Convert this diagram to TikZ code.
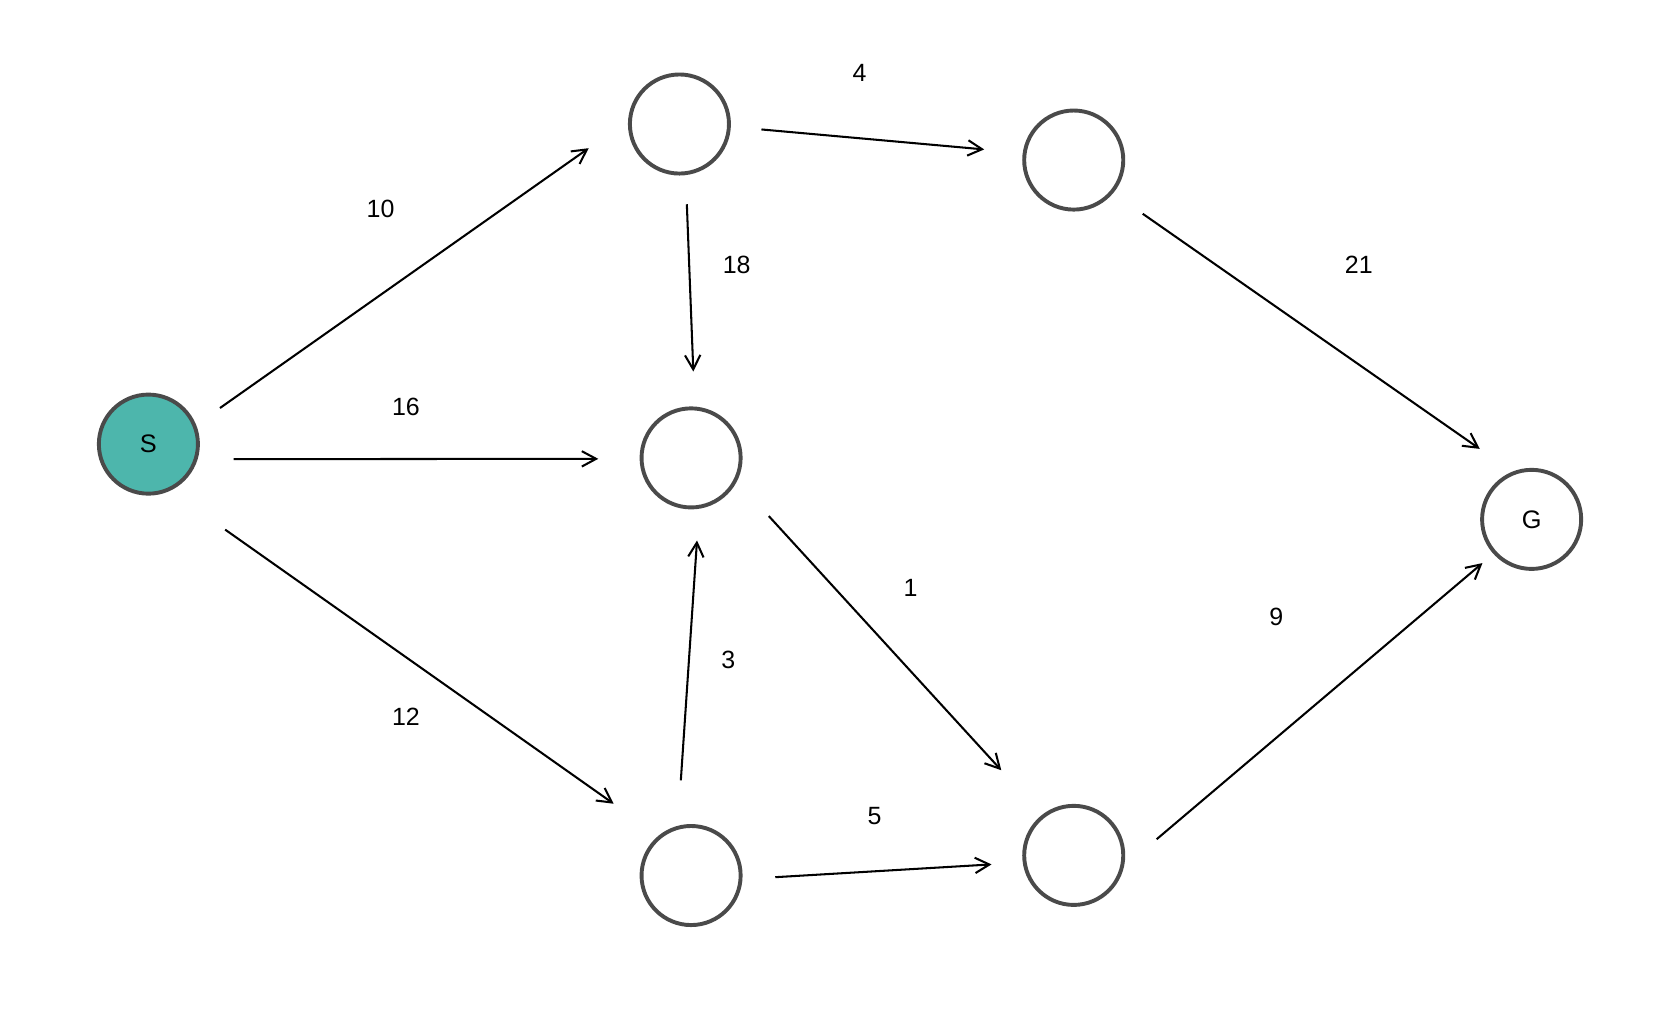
\documentclass[tikz,border=0pt]{standalone}
\usepackage{fontspec}
\setmainfont{Liberation Sans}
\usepackage{xcolor}
\usepackage{tikz}
\usetikzlibrary{
  arrows.meta,
  positioning,
  calc
}
\definecolor{ringgray}{HTML}{4A4A4A}
\definecolor{startteal}{HTML}{4DB6AC}

\begin{document}
\begin{tikzpicture}[x=0.02cm,y=-0.02cm,
  vertex/.style={circle,draw=ringgray,line width=2.1pt,minimum size=1.87cm,
    inner sep=0pt,font=\fontsize{13.6}{16}\selectfont},
  cost/.style={font=\fontsize{13.4}{16}\selectfont},
  edge/.style={line width=1.1pt,-{Straight Barb[length=2.7mm,width=2.9mm]}}]
  \useasboundingbox (0,0) rectangle (1568,960);
  % vertices
  \node[vertex,fill=startteal] (S) at (140,419) {S};
  \node[vertex] (up)   at (641,117) {};
  \node[vertex] (upr)  at (1013,151) {};
  \node[vertex] (mid)  at (652,432) {};
  \node[vertex] (low)  at (652,826) {};
  \node[vertex] (lowr) at (1013,807) {};
  \node[vertex] (G)    at (1445,490) {G};
  % edges from the start
  \draw[edge,shorten <=0.55cm,shorten >=0.91cm] (S.22.2) -- (up.176.4);
  \draw[edge,shorten <=0.68cm,shorten >=0.78cm] (S.343) -- (mid.181.2);
  \draw[edge,shorten <=1.27cm,shorten >=1.04cm] (S.295.1) -- (low.129.6);
  % middle edges
  \draw[edge,shorten <=0.58cm,shorten >=0.73cm] (up.357.2) -- (upr.172);
  \draw[edge,shorten <=0.55cm,shorten >=0.66cm] (up.277.1) -- (mid.86.1);
  \draw[edge,shorten <=0.89cm,shorten >=1.14cm] (mid.333.8) -- (lowr.128);
  \draw[edge,shorten <=0.86cm,shorten >=0.60cm] (low.105.7) -- (mid.279.7);
  \draw[edge,shorten <=0.62cm,shorten >=0.59cm] (low.356.8) -- (lowr.188.9);
  % edges into the goal
  \draw[edge,shorten <=0.68cm,shorten >=0.75cm] (upr.320.6) -- (G.112.3);
  \draw[edge,shorten <=0.81cm,shorten >=0.27cm] (lowr.347.7) -- (G.222.1);
  % costs
  \node[cost] (c10) at (359,197) {10};
  \node[cost] (c16) at (383,384) {16};
  \node[cost] (c12) at (383,676) {12};
  \node[cost] (c4)  at (811,69)  {4};
  \node[cost] (c18) at (695,250) {18};
  \node[cost] (c21) at (1282,250) {21};
  \node[cost] (c1)  at (859,555) {1};
  \node[cost] (c3)  at (687,623) {3};
  \node[cost] (c5)  at (825,770) {5};
  \node[cost] (c9)  at (1204,582) {9};
\end{tikzpicture}
\end{document}
